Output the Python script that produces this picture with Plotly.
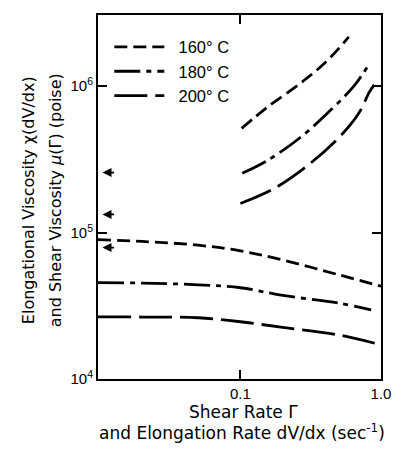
import math
import plotly.graph_objects as go

# ---- data ----
temps = ["160° C", "180° C", "200° C"]
dashes = ["13px,6px", "26px,6px,5px,6px", "33px,8px"]

# shear viscosity mu(Gamma) vs shear rate
shear_x = [
    [0.0097, 0.02, 0.05, 0.1, 0.2, 0.5, 1.0],
    [0.0097, 0.02, 0.05, 0.1, 0.2, 0.5, 0.85],
    [0.0097, 0.02, 0.05, 0.1, 0.2, 0.5, 1.0],
]
shear_y = [
    [8.95e4, 8.7e4, 8.2e4, 7.5e4, 6.5e4, 5.15e4, 4.3e4],
    [4.55e4, 4.52e4, 4.4e4, 4.2e4, 3.72e4, 3.3e4, 2.97e4],
    [2.66e4, 2.65e4, 2.62e4, 2.46e4, 2.25e4, 2.0e4, 1.71e4],
]

# elongational viscosity chi(dV/dx) vs elongation rate
elong_x = [
    [0.102, 0.156, 0.268, 0.405, 0.59],
    [0.103, 0.156, 0.268, 0.452, 0.652, 0.84],
    [0.1, 0.174, 0.314, 0.505, 0.693, 0.826, 0.895],
]
elong_y = [
    [5.15e5, 7.2e5, 1.05e6, 1.46e6, 2.17e6],
    [2.54e5, 3.11e5, 4.48e5, 7.06e5, 1.02e6, 1.46e6],
    [1.58e5, 2.0e5, 2.97e5, 4.48e5, 6.5e5, 9.1e5, 1.02e6],
]

# arrows marked on the left axis
arrow_values = [2.57e5, 1.33e5, 7.9e4]

y_tickvals = [1e4, 1e5, 1e6]
y_ticktext = ["10<sup>4</sup>", "10<sup>5</sup>", "10<sup>6</sup>"]
x_tickvals = [0.1, 1.0]
x_ticktext = ["0.1", "1.0"]

FONT = "Liberation Sans, Arial, sans-serif"
TFONT = "DejaVu Sans, Verdana, sans-serif"
NB = "\u00a0"

fig = go.Figure()
for i, t in enumerate(temps):
    fig.add_trace(go.Scatter(
        x=shear_x[i], y=shear_y[i], mode="lines", name=NB * 2 + t,
        legendgroup=t, showlegend=True,
        line=dict(color="black", width=2.8, dash=dashes[i], shape="spline"),
    ))
    fig.add_trace(go.Scatter(
        x=elong_x[i], y=elong_y[i], mode="lines", name=t,
        legendgroup=t, showlegend=False,
        line=dict(color="black", width=2.8, dash=dashes[i], shape="spline"),
    ))

for v in arrow_values:
    fig.add_annotation(
        x=0.016, xref="paper", y=math.log10(v), yref="y", text="",
        showarrow=True, arrowhead=2, arrowsize=1, arrowwidth=1.8,
        arrowcolor="black", ax=13, ay=0, standoff=0, startstandoff=0,
    )

# axis titles (two lines each)
TF = dict(size=16, family=TFONT, color="black")
XF = dict(size=17, family=TFONT, color="black")
fig.add_annotation(x=-0.243, y=0.492, xref="paper", yref="paper",
                   text="Elongational Viscosity χ(dV/dx)", textangle=-90,
                   showarrow=False, font=TF, xanchor="center", yanchor="middle")
fig.add_annotation(x=-0.147, y=0.492, xref="paper", yref="paper",
                   text="and Shear Viscosity <i>μ</i>(Γ) (poise)", textangle=-90,
                   showarrow=False, font=TF, xanchor="center", yanchor="middle")
fig.add_annotation(x=0.514, y=-0.0907, xref="paper", yref="paper",
                   text="Shear Rate Γ", showarrow=False, font=XF,
                   xanchor="center", yanchor="middle")
fig.add_annotation(x=0.51, y=-0.146, xref="paper", yref="paper",
                   text="and Elongation Rate dV/dx (sec<sup>-1</sup>)", showarrow=False,
                   font=XF, xanchor="center", yanchor="middle")

axis_common = dict(
    showline=True, linecolor="black", linewidth=2, mirror="ticks",
    ticks="inside", ticklen=9, tickwidth=1.5, tickcolor="black",
    showgrid=False, zeroline=False,
    tickfont=dict(size=15, family=FONT, color="black"),
)
fig.update_xaxes(type="log", range=[-2.013, 0], tickvals=x_tickvals,
                 ticktext=x_ticktext, **axis_common)
fig.update_yaxes(type="log", range=[4, 6.486], tickvals=y_tickvals,
                 ticktext=y_ticktext, **axis_common)

fig.update_layout(
    width=403, height=450,
    margin=dict(l=98, r=13, t=15, b=71),
    paper_bgcolor="white", plot_bgcolor="white",
    font=dict(family=FONT, color="black", size=16),
    legend=dict(x=0.04, y=0.96, xanchor="left", yanchor="top",
                bgcolor="rgba(0,0,0,0)", borderwidth=0, itemwidth=50,
                tracegroupgap=0,
                font=dict(size=16.5, family=FONT, color="black")),
)

fig.write_html("out.html")
